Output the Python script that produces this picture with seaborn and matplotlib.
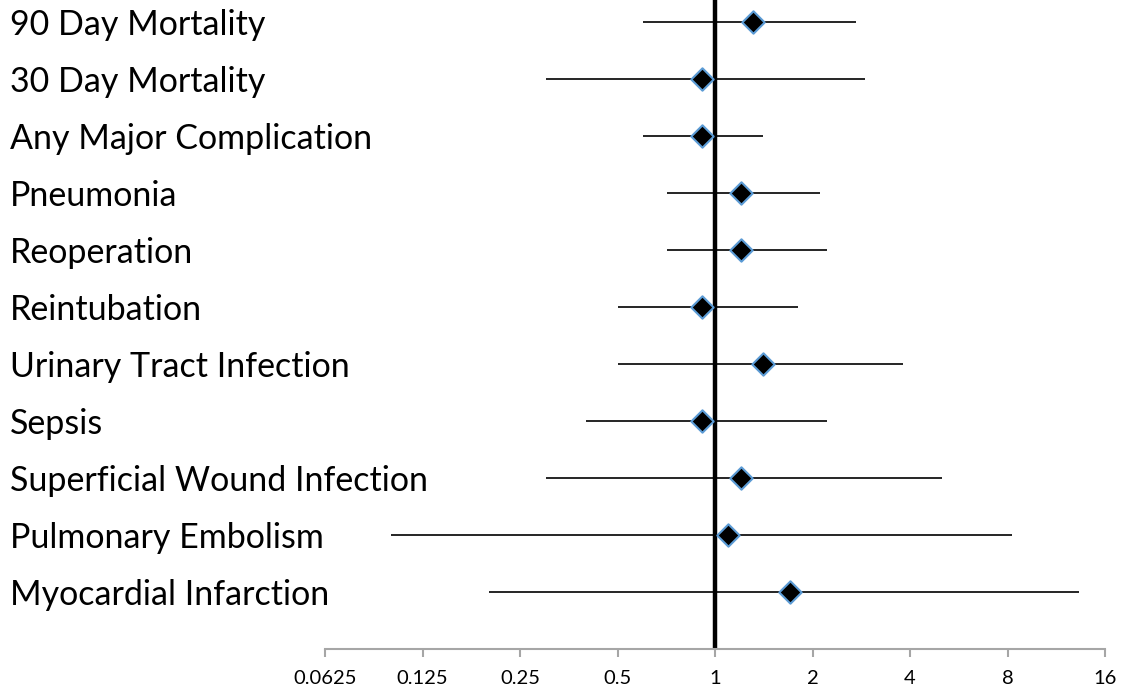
import numpy as np
import pandas as pd
import matplotlib
matplotlib.use('Agg')
import matplotlib.pyplot as plt
import seaborn as sns

sns.set_style('white')
plt.rcParams['font.family'] = ['Lato', 'DejaVu Sans']
plt.rcParams['text.color'] = 'black'
plt.rcParams['xtick.color'] = 'black'
plt.rcParams['ytick.color'] = 'black'

# forest plot data (odds ratio, lower CI, upper CI)
outcomes = ['90 Day Mortality', '30 Day Mortality', 'Any Major Complication',
            'Pneumonia', 'Reoperation', 'Reintubation', 'Urinary Tract Infection',
            'Sepsis', 'Superficial Wound Infection', 'Pulmonary Embolism',
            'Myocardial Infarction']
odds_ratio = [1.31, 0.91, 0.91, 1.20, 1.20, 0.91, 1.41, 0.91, 1.20, 1.10, 1.71]
ci_low = [0.60, 0.30, 0.60, 0.71, 0.71, 0.50, 0.50, 0.40, 0.30, 0.10, 0.20]
ci_high = [2.73, 2.91, 1.41, 2.11, 2.22, 1.80, 3.81, 2.22, 5.03, 8.28, 13.3]
xticks = [0.0625, 0.125, 0.25, 0.5, 1, 2, 4, 8, 16]
xtick_labels = ['0.0625', '0.125', '0.25', '0.5', '1', '2', '4', '8', '16']

df = pd.DataFrame({'outcome': outcomes, 'or': odds_ratio,
                   'lo': ci_low, 'hi': ci_high})
df['pos'] = np.arange(len(df))

fig = plt.figure(figsize=(11.23, 6.96), dpi=100)
ax = fig.add_axes([325/1123, 1-649/696, (1105-325)/1123, 649/696])

ax.hlines(df['pos'], df['lo'], df['hi'], color='black', lw=1.2, zorder=1)
ax.axvline(1, color='black', lw=3.2, zorder=2)
sns.scatterplot(data=df, x='or', y='pos', marker='D', s=130, color='black',
                edgecolor='#5b9bd5', linewidth=1.5, zorder=3, ax=ax, legend=False)

ax.set_xscale('log', base=2)
ax.set_xlim(0.0625, 16)
ax.set_ylim(11.0, -0.386)
ax.set_xticks(xticks)
ax.set_xticklabels(xtick_labels, fontsize=14.5)
ax.minorticks_off()
ax.set_yticks(df['pos'])
ax.set_yticklabels(df['outcome'], fontsize=24.5, ha='left')
ax.tick_params(axis='y', length=0, pad=315*72/100)
ax.tick_params(axis='x', length=6, width=1.5, color='#a6a6a6', pad=9, direction='out', bottom=True)
ax.set_xlabel('')
ax.set_ylabel('')
for s in ['top', 'right', 'left']:
    ax.spines[s].set_visible(False)
ax.spines['bottom'].set_color('#a6a6a6')
ax.spines['bottom'].set_linewidth(1.5)

fig.savefig('out.png', dpi=100)
